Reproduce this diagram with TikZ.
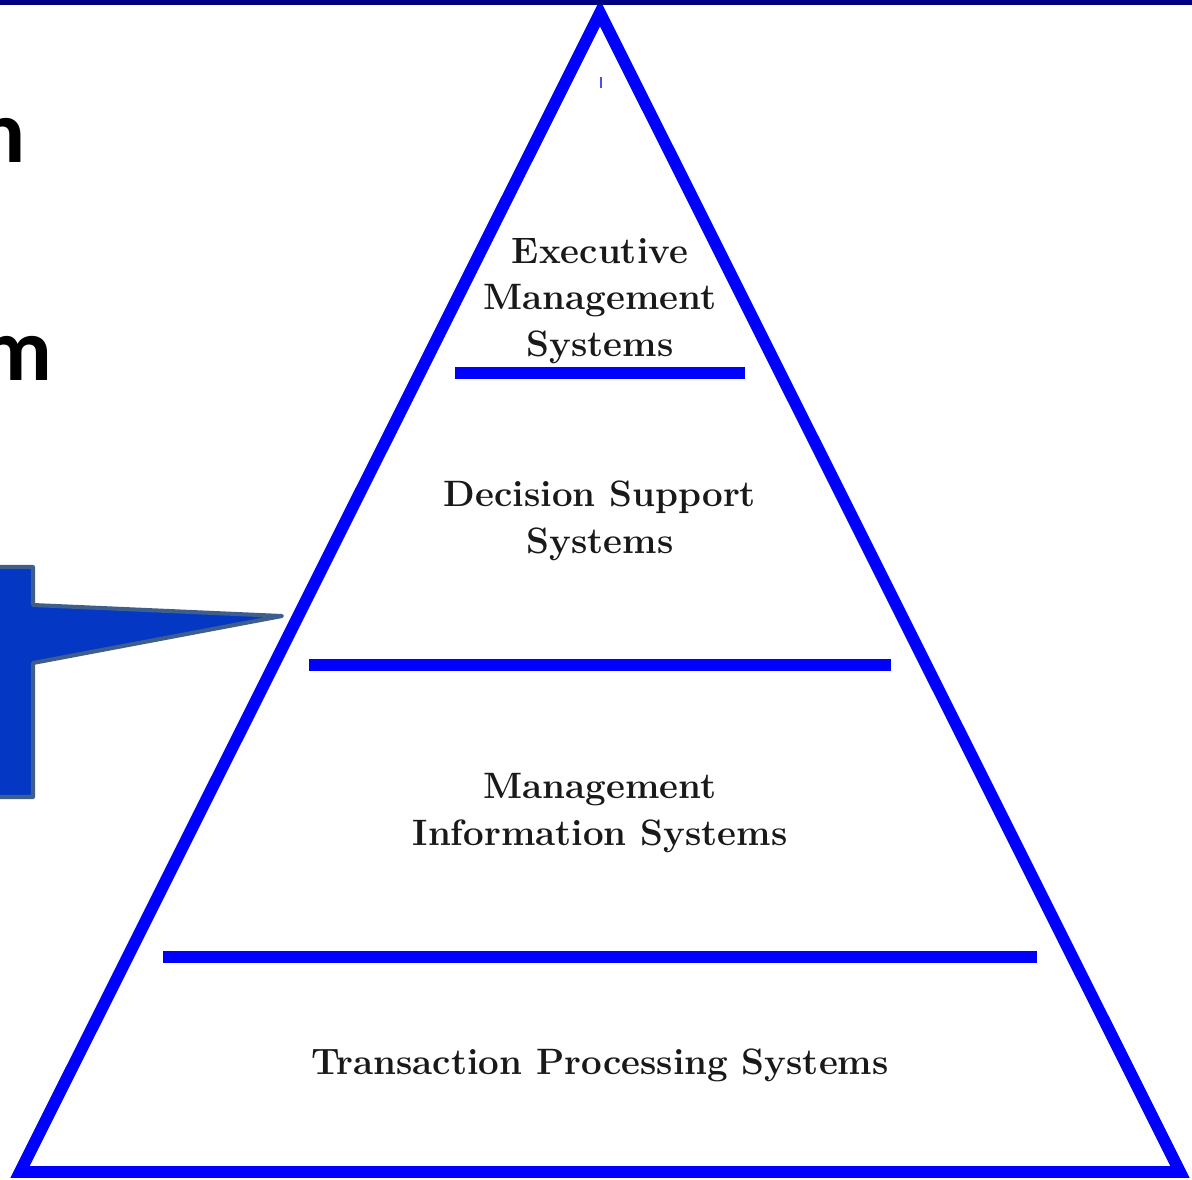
\documentclass[tikz,border=0pt]{standalone}
\usepackage{fontspec}
\newfontfamily\calib{Carlito}
\definecolor{triblue}{RGB}{0,0,255}
\definecolor{navyband}{RGB}{0,0,128}
\definecolor{arrowfillc}{RGB}{4,56,196}
\definecolor{arrowedge}{RGB}{62,94,140}
\begin{document}
\begin{tikzpicture}[x=0.02cm,y=-0.02cm,
  tri/.style={draw=triblue, line width=6.8pt, line join=miter},
  levelbar/.style={draw=triblue, line width=7pt},
  lab/.style={font=\fontsize{20.9}{26.4}\selectfont\bfseries, align=center, text=black!90, inner sep=0pt},
  cutlab/.style={font=\calib\bfseries\fontsize{51}{60}\selectfont, inner sep=0pt, anchor=base east, text=black},
  callout/.style={fill=arrowfillc, draw=arrowedge, line width=2.3pt, line join=round}]
\useasboundingbox (0,0) rectangle (1192,1179);
\fill[white] (0,0) rectangle (1192,1179);
% pyramid
\coordinate (apex) at (600,13);
\coordinate (bl) at (20,1172);
\coordinate (br) at (1180,1172);
\draw[tri] (apex) -- (br) -- (bl) -- cycle;
% level bars
\coordinate (b1l) at (455,373); \coordinate (b1r) at (745,373);
\coordinate (b2l) at (309,665); \coordinate (b2r) at (891,665);
\coordinate (b3l) at (163,957); \coordinate (b3r) at (1037,957);
\draw[levelbar] (b1l) -- (b1r);
\draw[levelbar] (b2l) -- (b2r);
\draw[levelbar] (b3l) -- (b3r);
% small tick below apex
\coordinate (t1) at (601,77); \coordinate (t2) at (601,88);
\draw[triblue!70, line width=1.2pt] (t1) -- (t2);
% labels
\node[lab] (ems) at (600,301) {Executive\\Management\\Systems};
\node[lab] (dss) at (600,521) {Decision Support\\Systems};
\node[lab] (mis) at (600,813) {Management\\Information Systems};
\node[lab] (tps) at (600,1065) {Transaction Processing Systems};
% callout arrow
\coordinate (a1) at (-20,567); \coordinate (a2) at (33,567); \coordinate (a3) at (33,605);
\coordinate (tip) at (282,616);
\coordinate (a5) at (33,663); \coordinate (a6) at (33,797); \coordinate (a7) at (-20,797);
\draw[callout] (a1) -- (a2) -- (a3) -- (tip) -- (a5) -- (a6) -- (a7) -- cycle;
% cut-off text at the left edge, as in the reference
\node[cutlab] (cn) at (26,163) {n};
\node[cutlab] (cm) at (53,380) {m};
% top band
\fill[navyband] (0,0) rectangle (1192,5);
\end{tikzpicture}
\end{document}
